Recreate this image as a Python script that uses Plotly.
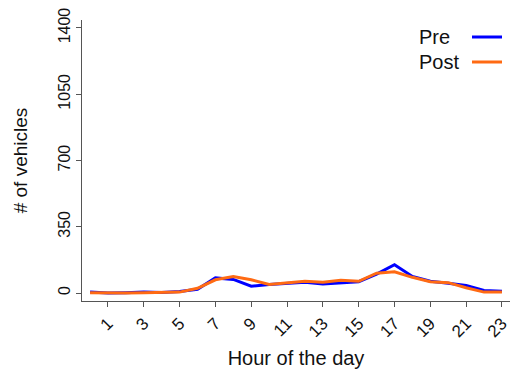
import plotly.graph_objects as go

# hourly vehicle counts
hours = list(range(24))
pre = [5, 0, 2, 5, 3, 8, 20, 80, 72, 36, 45, 52, 57, 48, 52, 60,
       100, 150, 88, 62, 52, 40, 14, 9]
post = [2, 0, 0, 2, 3, 5, 25, 70, 87, 70, 45, 55, 62, 57, 68, 62,
        105, 112, 83, 60, 55, 28, 5, 5]
x_ticks = list(range(1, 24, 2))
y_ticks = [0, 350, 700, 1050, 1400]

blue = "#0000FF"
orange = "#FF6A13"
font = "Liberation Sans, Arial, Helvetica, sans-serif"

fig = go.Figure()
fig.add_trace(go.Scatter(x=hours, y=pre, mode="lines", name="Pre",
                         line=dict(color=blue, width=3)))
fig.add_trace(go.Scatter(x=hours, y=post, mode="lines", name="Post",
                         line=dict(color=orange, width=3)))

# legend drawn by hand: text first, line sample to the right
for i, (label, col) in enumerate([("Pre", blue), ("Post", orange)]):
    yp = 1 - (37 + i * 25 - 20) / 281
    fig.add_annotation(xref="paper", yref="paper", x=(417 - 82) / 428, y=yp,
                       text=label, showarrow=False, xanchor="left", yanchor="middle",
                       font=dict(size=20, color="#111111", family=font))
    fig.add_shape(type="line", xref="paper", yref="paper",
                  x0=(472 - 82) / 428, x1=(502 - 82) / 428, y0=yp, y1=yp,
                  line=dict(color=col, width=3))

# page body has an 8px margin, so the figure is sized/offset to fit
fig.update_layout(
    width=503, height=362,
    margin=dict(l=74, r=1, t=12, b=69),
    paper_bgcolor="white", plot_bgcolor="white",
    showlegend=False,
    font=dict(family=font, color="#111111"),
)
fig.update_xaxes(
    range=[-0.45, 23.45], tickvals=x_ticks, ticktext=[str(v) for v in x_ticks],
    tickangle=-45, ticks="outside", ticklen=5, tickcolor="#555555",
    showline=True, linecolor="#555555", linewidth=1, showgrid=False, zeroline=False,
    tickfont=dict(size=17), automargin=False, ticklabeloverflow="allow",
    title=dict(text="Hour of the day", font=dict(size=20), standoff=10),
)
fig.update_yaxes(
    range=[-42, 1442], tickvals=y_ticks, ticktext=[str(v) for v in y_ticks],
    tickangle=-90, ticks="outside", ticklen=5, tickcolor="#555555",
    showline=True, linecolor="#555555", linewidth=1, showgrid=False, zeroline=False,
    tickfont=dict(size=16), automargin=False, ticklabeloverflow="allow",
    title=dict(text="# of vehicles", font=dict(size=19), standoff=22),
)

fig.write_html("out.html")
